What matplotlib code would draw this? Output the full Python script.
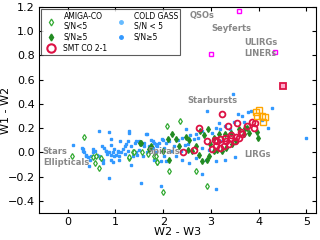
import matplotlib
matplotlib.use("Agg")
import matplotlib.pyplot as plt

# COLD GASS points (W2-W3, W1-W2)
cg_x = [0.65, 0.11, 0.29, 0.33, 0.32, 0.35, 0.39, 0.38, 0.42, 0.46, 0.49, 0.53, 0.54, 0.58, 0.56, 0.61,
        0.65, 0.68, 0.72, 0.74, 0.72, 0.77, 0.81, 0.82, 0.87, 0.91, 0.94, 0.98, 1.01, 1.05, 1.08, 1.12,
        1.15, 1.19, 1.22, 1.26, 1.28, 1.29, 1.33, 1.36, 1.42, 1.43, 1.50, 1.53, 1.60, 1.65, 1.71, 1.74,
        1.81, 1.85, 1.67, 1.57, 1.46, 1.33, 1.53, 0.86, 0.91, 0.44, 0.74,
        0.87, 0.90, 1.10, 1.67, 1.78, 1.85, 1.92, 1.97, 2.06, 1.60, 1.50, 1.43, 1.36, 2.02, 1.95, 1.81,
        0.91, 0.98, 0.80, 1.05, 1.19, 1.26, 1.08, 0.94,
        3.46, 2.92, 3.16, 3.56, 3.65, 3.77, 3.84, 3.19, 2.81, 2.56, 2.40, 2.30, 2.13, 1.99, 1.88, 1.78,
        2.02, 2.23, 2.45, 2.52, 2.64, 2.73, 2.68, 3.03, 3.10, 3.30, 3.40, 3.49, 3.69, 3.51, 3.30, 3.10,
        2.89, 2.68, 2.54, 2.40, 2.26, 2.05, 1.95, 3.10, 2.82, 4.19, 4.07, 3.20, 2.95, 2.82, 2.37, 2.16,
        1.85, 1.74, 2.47, 5.00, 4.28]
cg_y = [0.18, 0.06, 0.04, 0.03, 0.01, 0.00, -0.02, -0.03, -0.04, -0.06, -0.03, 0.00, 0.03, 0.01, -0.04, -0.02,
        -0.03, -0.05, -0.06, -0.09, 0.05, 0.04, 0.01, -0.01, 0.00, -0.02, 0.00, -0.03, -0.02, 0.00, -0.03, 0.00,
        0.03, 0.05, 0.07, 0.09, 0.16, 0.18, 0.05, 0.00, 0.08, 0.09, 0.09, 0.07, 0.08, 0.15, 0.05, 0.04,
        0.08, 0.06, 0.00, -0.03, -0.02, -0.10, -0.25, -0.21, -0.06, -0.11, -0.06,
        0.17, 0.11, 0.09, 0.15, 0.09, 0.07, 0.08, 0.11, 0.08, 0.05, 0.02, 0.00, -0.03, -0.03, -0.07, -0.06,
        0.06, 0.03, 0.01, 0.01, -0.01, 0.01, -0.06, -0.08,
        0.48, 0.34, 0.24, 0.32, 0.30, 0.33, 0.34, 0.19, 0.18, 0.14, 0.12, 0.10, 0.09, 0.10, 0.05, 0.04,
        0.04, 0.05, 0.06, 0.07, 0.11, 0.12, 0.15, 0.16, 0.20, 0.22, 0.19, 0.25, 0.25, -0.04, -0.06, -0.07,
        -0.06, -0.05, -0.09, -0.06, -0.03, -0.07, -0.28, -0.30, -0.18, 0.20, 0.27, 0.09, 0.02, 0.04, 0.01, 0.01,
        0.00, 0.10, 0.19, 0.12, 0.37]

# AMIGA-CO S/N<5 (open diamonds)
alo_x = [0.35, 0.08, 0.53, 0.58, 0.65, 0.70, 0.60, 1.29, 1.37, 1.55, 1.81, 1.88, 1.69, 1.38, 1.29,
         2.35, 2.07, 1.85, 2.12, 2.68, 2.92, 1.99, 1.88]
alo_y = [0.13, -0.03, -0.04, -0.09, -0.13, -0.05, -0.03, -0.05, 0.00, 0.00, -0.03, -0.08, -0.01, 0.00, -0.04,
         0.26, 0.22, -0.03, -0.15, -0.15, -0.28, -0.33, -0.08]

# AMIGA-CO S/N>=5 (filled diamonds)
ahi_x = [1.51, 1.74, 1.53, 1.71, 2.11, 2.19, 2.26, 2.47, 2.54, 2.68, 2.78, 2.85, 2.94, 2.99, 3.06, 3.13,
         3.23, 3.31, 3.44, 3.53, 3.69, 3.79, 3.76, 3.96, 3.98, 3.71, 2.75, 2.82, 2.92, 2.96, 2.61, 2.51,
         2.33, 2.12, 1.99, 3.41, 3.58, 3.30, 3.16, 3.06]
ahi_y = [0.08, 0.05, 0.08, 0.03, 0.11, 0.15, 0.11, 0.13, 0.10, 0.05, 0.18, 0.14, 0.19, 0.07, 0.01, 0.02,
         0.01, 0.04, 0.07, 0.09, 0.15, 0.16, 0.20, 0.17, 0.12, 0.20, -0.02, -0.07, -0.06, -0.03, 0.01, 0.02,
         0.05, -0.06, 0.01, 0.16, 0.19, 0.15, 0.15, 0.12]

# SMT CO 2-1 (red circles)
smt_x = [3.24, 2.76, 3.36, 3.55, 3.86, 3.92, 3.90, 3.76, 3.62, 3.43, 3.29, 3.18, 3.13, 3.10, 2.92, 3.03,
         3.18, 3.27, 3.37, 3.50, 3.53, 3.65, 3.32, 2.65, 2.42, 3.41, 3.58, 3.08]
smt_y = [0.32, 0.20, 0.22, 0.24, 0.25, 0.24, 0.20, 0.22, 0.17, 0.14, 0.12, 0.11, 0.09, 0.05, 0.09, 0.03,
         0.04, 0.05, 0.07, 0.09, 0.13, 0.15, 0.09, 0.02, 0.00, 0.12, 0.12, 0.10]

# orange squares
org_x = [4.00, 3.96, 4.06, 4.14, 4.10, 3.94]
org_y = [0.35, 0.30, 0.30, 0.29, 0.25, 0.33]

# magenta squares (QSO / Seyfert / LINER)
mag_x = [3.58, 3.00, 4.35]
mag_y = [1.165, 0.81, 0.83]

# red square
rsq_x = [4.50]
rsq_y = [0.55]

labels = [("QSOs", 2.55, 1.13), ("Seyferts", 3.0, 1.02), ("ULIRGs", 3.69, 0.91), ("LINERs", 3.69, 0.82),
          ("Starbursts", 2.5, 0.43), ("Spirals", 1.67, 0.01), ("Stars", -0.52, 0.01),
          ("Ellipticals", -0.52, -0.08), ("LIRGs", 3.69, -0.02)]

fig = plt.figure(figsize=(3.2, 2.4), dpi=100)
ax = fig.add_axes([0.122, 0.1125, 0.8655, 0.8585])

ax.plot(cg_x, cg_y, 's', ms=1.8, color='#3399ff', mec='#3399ff', ls='none', zorder=2)
ax.plot(alo_x, alo_y, 'd', ms=3, mfc='white', mec='#33aa33', mew=0.9, ls='none', zorder=3)
ax.plot(ahi_x, ahi_y, 'd', ms=3, color='#228b22', ls='none', zorder=3)
ax.plot(smt_x, smt_y, 'o', ms=4.2, mfc='none', mec='#dd1144', mew=1.3, ls='none', zorder=4)
ax.plot(org_x, org_y, 's', ms=3.8, mfc='none', mec='orange', mew=1.0, ls='none', zorder=4)
ax.plot(mag_x, mag_y, 's', ms=3.2, mfc='none', mec='magenta', mew=1.0, ls='none', zorder=4)
ax.plot(rsq_x, rsq_y, 's', ms=4.2, mfc='#ffaacc', mec='#dd1144', mew=1.3, ls='none', zorder=4)

for t, x, y in labels:
    ax.text(x, y, t, color='#888888', fontsize=6, fontweight='bold', va='center', ha='left', zorder=5)

ax.set_xlim(-0.6, 5.2)
ax.set_ylim(-0.5, 1.2)
ax.set_xticks([0, 1, 2, 3, 4, 5])
ax.set_yticks([-0.4, -0.2, 0.0, 0.2, 0.4, 0.6, 0.8, 1.0, 1.2])
ax.tick_params(direction='in', top=True, right=True, labelsize=8, length=3, pad=3)
ax.set_xlabel("W2 - W3", fontsize=8, labelpad=0)
ax.set_ylabel("W1 - W2", fontsize=8)
ax.yaxis.set_label_coords(-0.103, 0.5)

h1, = ax.plot([], [], 'd', ms=3.5, mfc='white', mec='#33aa33', mew=0.9, ls='none')
h2, = ax.plot([], [], 'd', ms=3.5, color='#228b22', ls='none')
h3, = ax.plot([], [], 'o', ms=6, mfc='none', mec='#dd1144', mew=1.5, ls='none')
h4, = ax.plot([], [], 'o', ms=2.5, color='#66bbff', ls='none')
h5, = ax.plot([], [], 'o', ms=2.5, color='#3399ff', ls='none')
leg = ax.legend([h1, h2, h3, h4, h5],
                ["AMIGA-CO\nS/N<5", "S/N≥5", "SMT CO 2-1", "COLD GASS\nS/N < 5", "S/N≥5"],
                ncol=2, loc='upper left', fontsize=5.5, frameon=True, fancybox=False,
                edgecolor='#333333', borderaxespad=0.3, handletextpad=0.6, columnspacing=0.8,
                labelspacing=0.25, handlelength=2.0, borderpad=0.3)
leg.get_frame().set_linewidth(0.8)

fig.savefig("out.png", dpi=100)
